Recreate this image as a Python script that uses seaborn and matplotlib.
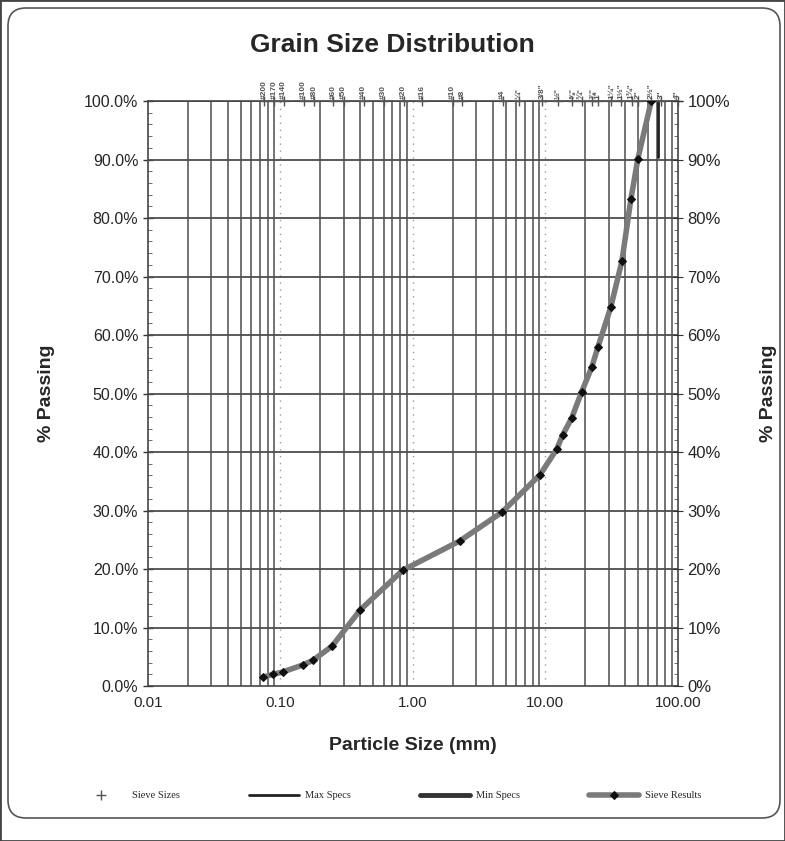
import numpy as np
import pandas as pd
import matplotlib
matplotlib.use("Agg")
from matplotlib import pyplot as plt
import matplotlib.patches as mpatches
from matplotlib.ticker import FixedLocator, MultipleLocator, NullFormatter
import seaborn as sns

# sieve results (mm, % passing)
size_mm = [0.074, 0.088, 0.104, 0.148, 0.176, 0.245, 0.40, 0.84, 2.26, 4.7,
           9.1, 12.2, 13.5, 15.8, 18.8, 22.4, 24.9, 31.2, 37.8, 44.2, 49.9, 63.0]
passing = [1.5, 2.0, 2.4, 3.6, 4.4, 6.8, 13.0, 19.8, 24.8, 29.7,
           36.1, 40.5, 42.9, 45.8, 50.3, 54.5, 57.9, 64.8, 72.6, 83.2, 90.1, 100.0]

# spec lines (only the short upper one shows)
max_spec_mm = [70.6, 70.6]
max_spec_pct = [90.5, 100.0]
min_spec_mm = []
min_spec_pct = []

# sieve sizes drawn along the top
sieve_names = ['#200', '#170', '#140', '#100', '#80', '#60', '#50', '#40', '#30', '#20',
               '#16', '#10', '#8', '#4', '¼"', '3/8"', '½"', '⅝"', '¾"', '⅞"',
               '1"', '1¼"', '1½"', '1¾"', '2"', '2½"', '3"', '4"']
sieve_mm = [0.075, 0.090, 0.106, 0.150, 0.180, 0.250, 0.300, 0.425, 0.600, 0.850,
            1.18, 2.00, 2.36, 4.75, 6.3, 9.5, 12.5, 16.0, 19.0, 22.4,
            25.0, 31.5, 37.5, 45.0, 50.0, 63.0, 75.0, 100.0]
sieve_top = [100.0] * len(sieve_mm)

x_ticks = [0.01, 0.1, 1, 10, 100]
x_labels = ['0.01', '0.10', '1.00', '10.00', '100.00']
y_ticks = list(range(0, 101, 10))
y_left_labels = ['%.1f%%' % v for v in y_ticks]
y_right_labels = ['%d%%' % v for v in y_ticks]

sns.set_style("white")
plt.rcParams['font.family'] = ['Liberation Sans', 'DejaVu Sans']

results = pd.DataFrame({'Size': size_mm, 'Passing': passing})

fig = plt.figure(figsize=(7.85, 8.41), dpi=100)
ax = fig.add_axes([0.1885, 0.1843, 0.675, 0.6956])

# grid: solid minor verticals, faint dotted decade lines, solid 10% lines
minor_x = [m * 10.0 ** d for d in range(-2, 2) for m in range(2, 10)]
for xv in minor_x:
    ax.axvline(xv, color='#4d4d4d', lw=1.1, zorder=1)
for xv in x_ticks[1:-1]:
    ax.axvline(xv, color='#999999', lw=1.0, ls=(0, (1, 4)), zorder=1)
for yv in y_ticks[1:]:
    ax.axhline(yv, color='#4d4d4d', lw=1.3, zorder=1)

sns.lineplot(data=results, x='Size', y='Passing', ax=ax, color='#7a7a7a', lw=4,
             marker='D', markersize=4, markerfacecolor='#111111',
             markeredgecolor='#111111', label='Sieve Results', zorder=4)
ax.plot(max_spec_mm, max_spec_pct, color='#222222', lw=2, label='Max Specs', zorder=3)
ax.plot(min_spec_mm, min_spec_pct, color='#333333', lw=3.5, label='Min Specs', zorder=3)
ax.plot(sieve_mm, sieve_top, ls='none', marker='+', color='#555555', markersize=7,
        label='Sieve Sizes', zorder=3, clip_on=False)

for name, mm in zip(sieve_names, sieve_mm):
    ax.text(mm, 1.004, name, transform=ax.get_xaxis_transform(), rotation=90,
            ha='center', va='bottom', fontsize=6, fontweight='bold', color='#555555')

ax.set_xscale('log')
ax.set_xlim(0.01, 100)
ax.set_ylim(0, 100)
ax.xaxis.set_major_locator(FixedLocator(x_ticks))
ax.set_xticklabels(x_labels, fontsize=11)
ax.xaxis.set_minor_formatter(NullFormatter())
ax.set_yticks(y_ticks)
ax.set_yticklabels(y_left_labels, fontsize=11.5)
ax.yaxis.set_minor_locator(MultipleLocator(2))
ax.tick_params(axis='both', which='major', direction='inout', length=7, width=1, color='#333333')
ax.tick_params(axis='y', which='minor', direction='in', length=3, color='#555555')
ax.tick_params(axis='x', which='minor', length=0)
for side in ['left', 'bottom', 'top', 'right']:
    ax.spines[side].set_color('#444444')
    ax.spines[side].set_linewidth(1.2)

ax.set_xlabel('Particle Size (mm)', fontsize=14, fontweight='bold')
ax.xaxis.set_label_coords(0.5, -0.088)
ax.set_ylabel('% Passing', fontsize=14, fontweight='bold')
ax.yaxis.set_label_coords(-0.175, 0.5)
fig.text(0.5, 1 - 45 / 841, 'Grain Size Distribution', fontsize=19, fontweight='bold',
         ha='center', va='center')

ax2 = ax.twinx()
ax2.set_ylim(0, 100)
ax2.set_yticks(y_ticks)
ax2.set_yticklabels(y_right_labels, fontsize=12)
ax2.yaxis.set_minor_locator(MultipleLocator(2))
ax2.tick_params(axis='y', which='major', direction='inout', length=7, color='#333333')
ax2.tick_params(axis='y', which='minor', direction='in', length=3, color='#555555')
ax2.set_ylabel('% Passing', fontsize=14, fontweight='bold')
ax2.yaxis.set_label_coords(1.155, 0.5)
for side in ['left', 'bottom', 'top', 'right']:
    ax2.spines[side].set_visible(False)

# legend along the bottom
handles, labels = ax.get_legend_handles_labels()
order = ['Sieve Sizes', 'Max Specs', 'Min Specs', 'Sieve Results']
hmap = dict(zip(labels, handles))
ax.get_legend().remove()
fig.legend([hmap[k] for k in order], order, loc='center', bbox_to_anchor=(0.495, 0.054),
           ncol=4, frameon=False, prop={'family': 'Liberation Serif', 'size': 7.5},
           handlelength=4.8, columnspacing=6.6, handletextpad=0.6)

# rounded chart frame and outer border
frame = mpatches.FancyBboxPatch((8, 23), 772, 810, boxstyle="round,pad=0,rounding_size=18",
                                transform=None, fill=False, edgecolor='#555555', lw=1.2)
fig.patches.append(frame)
border = mpatches.Rectangle((0, 0), 1, 1, transform=fig.transFigure, fill=False,
                            edgecolor='#444444', lw=2)
fig.patches.append(border)

fig.savefig('out.png', dpi=100)
